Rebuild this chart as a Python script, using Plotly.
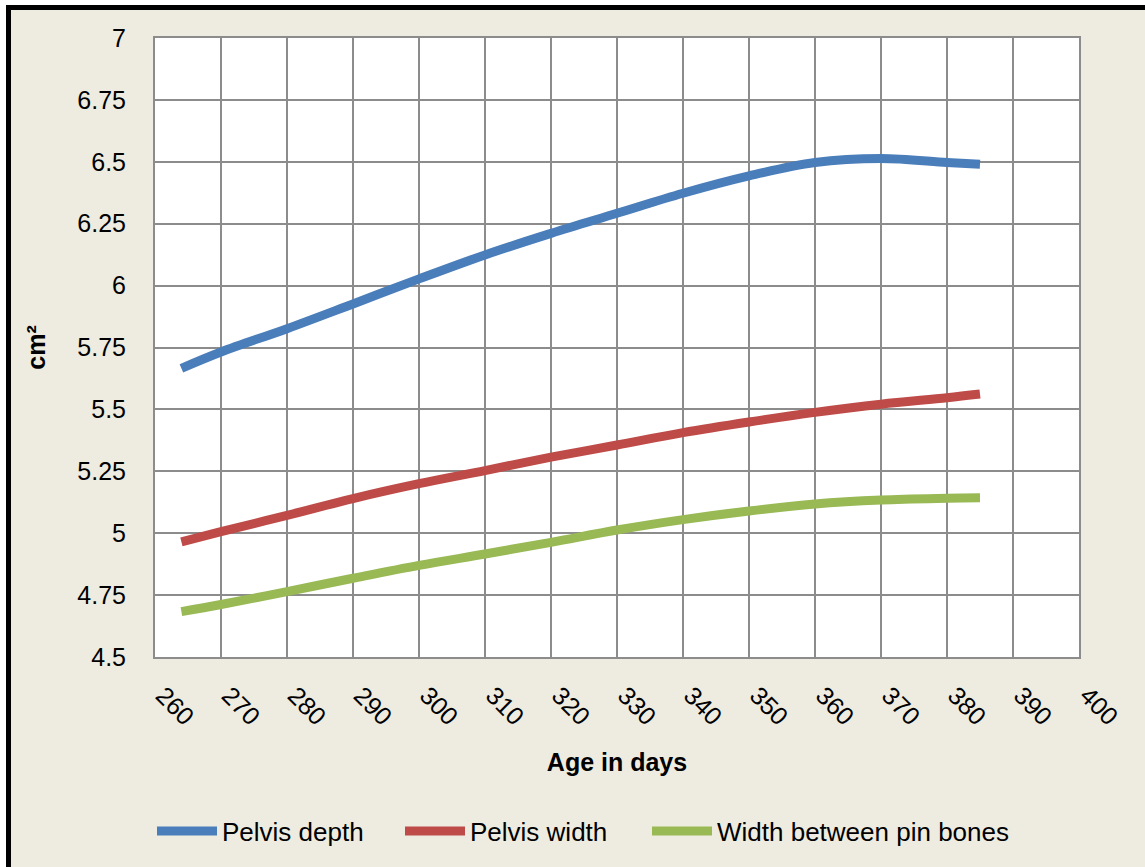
import plotly.graph_objects as go

# Age (days) at which each measurement is plotted
age_days = [264, 270, 280, 290, 300, 310, 320, 330, 340, 350, 360, 370, 380, 385]

pelvis_depth = [5.666, 5.732, 5.826, 5.926, 6.027, 6.124, 6.211, 6.292, 6.373,
                6.443, 6.497, 6.513, 6.497, 6.490]
pelvis_width = [4.965, 5.006, 5.072, 5.140, 5.200, 5.253, 5.307, 5.356, 5.406,
                5.449, 5.488, 5.521, 5.547, 5.562]
pin_bone_width = [4.683, 4.712, 4.764, 4.818, 4.870, 4.916, 4.963, 5.013, 5.055,
                  5.090, 5.118, 5.134, 5.141, 5.143]

series_names = ["Pelvis depth", "Pelvis width", "Width between pin bones"]
series_colors = ["#4A7EBB", "#BE4B48", "#98B954"]
legend_ids = ["legend", "legend2", "legend3"]

x_ticks = list(range(260, 401, 10))
y_ticks = [4.5, 4.75, 5, 5.25, 5.5, 5.75, 6, 6.25, 6.5, 6.75, 7]
y_tick_text = ["4.5", "4.75", "5", "5.25", "5.5", "5.75", "6", "6.25", "6.5", "6.75", "7"]

W, H = 1145, 867
ML, MR, MT, MB = 155, 66, 38, 210
PW, PH = W - ML - MR, H - MT - MB

FONT = "Liberation Sans, Arial, sans-serif"
GRID = "#8C8C8C"
PANEL = "#EEECE1"

fig = go.Figure()
for name, vals, col, lg in zip(series_names, [pelvis_depth, pelvis_width, pin_bone_width],
                               series_colors, legend_ids):
    fig.add_trace(go.Scatter(
        x=age_days, y=vals, name=name, mode="lines", legend=lg,
        line=dict(color=col, width=9, shape="spline", smoothing=1.0),
    ))


def px_x(p):
    return (p - ML) / PW


def px_y(p):
    return (H - MB - p) / PH


# thin white strip outside the frame (left and top edges)
fig.add_shape(type="rect", xref="paper", yref="paper",
              x0=px_x(-20), x1=px_x(6), y0=px_y(H + 20), y1=px_y(-20),
              fillcolor="white", line=dict(width=0), layer="below")
fig.add_shape(type="rect", xref="paper", yref="paper",
              x0=px_x(-20), x1=px_x(W + 20), y0=px_y(5), y1=px_y(-20),
              fillcolor="white", line=dict(width=0), layer="below")
# black frame around the chart panel
fig.add_shape(type="rect", xref="paper", yref="paper",
              x0=px_x(8.5), x1=px_x(W + 20), y0=px_y(H + 20), y1=px_y(7.5),
              fillcolor="rgba(0,0,0,0)", line=dict(color="black", width=5), layer="below")

legend_style = dict(orientation="h", xanchor="left", yanchor="middle", y=px_y(831),
                    font=dict(size=26), bgcolor="rgba(0,0,0,0)", itemwidth=60)

fig.update_layout(
    width=W, height=H,
    margin=dict(l=ML, r=MR, t=MT, b=MB),
    paper_bgcolor=PANEL,
    plot_bgcolor="white",
    font=dict(family=FONT, size=25, color="black"),
    showlegend=True,
    legend=dict(x=px_x(152), **legend_style),
    legend2=dict(x=px_x(400), **legend_style),
    legend3=dict(x=px_x(647), **legend_style),
    xaxis=dict(range=[260, 400], tickvals=x_ticks, tickangle=45,
               showgrid=True, gridcolor=GRID, gridwidth=2,
               showline=True, linecolor=GRID, linewidth=2, mirror=True,
               ticks="", zeroline=False, ticklabelstandoff=12, ticklabelshift=8,
               title=dict(text="<b>Age in days</b>", font=dict(size=25), standoff=24)),
    yaxis=dict(range=[4.5, 7], tickvals=y_ticks, ticktext=y_tick_text,
               showgrid=True, gridcolor=GRID, gridwidth=2,
               showline=True, linecolor=GRID, linewidth=2, mirror=True,
               ticks="", zeroline=False, ticklabelstandoff=22,
               title=dict(text="<b>cm²</b>", font=dict(size=25), standoff=25)),
)

fig.write_html("out.html")
